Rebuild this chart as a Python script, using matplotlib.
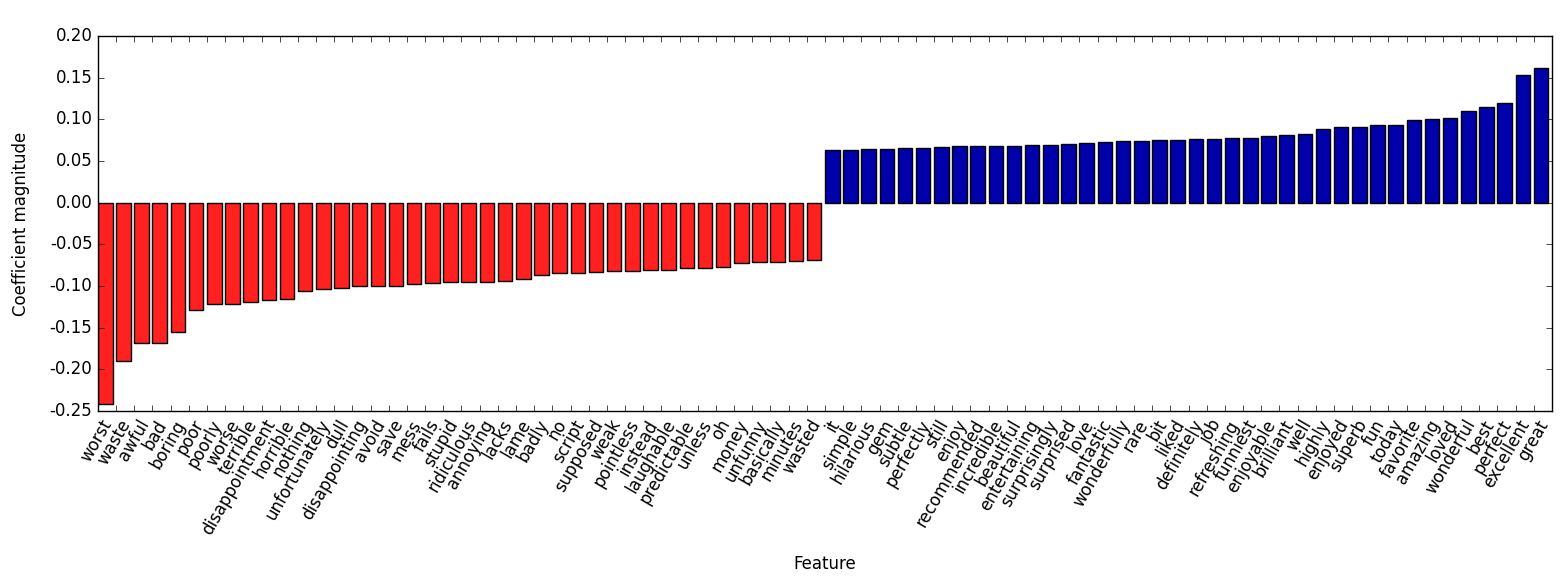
import matplotlib
matplotlib.use("Agg")
import matplotlib.pyplot as plt
import numpy as np

plt.style.use("classic")

# negative features (smallest coefficients)
neg_names = ["worst", "waste", "awful", "bad", "boring", "poor", "poorly", "worse",
             "terrible", "disappointment", "horrible", "nothing", "unfortunately",
             "dull", "disappointing", "avoid", "save", "mess", "fails", "stupid",
             "ridiculous", "annoying", "lacks", "lame", "badly", "no", "script",
             "supposed", "weak", "pointless", "instead", "laughable", "predictable",
             "unless", "oh", "money", "unfunny", "basically", "minutes", "wasted"]
neg_coef = [-0.2416, -0.1896, -0.1688, -0.1680, -0.1548, -0.1292, -0.1212, -0.1212,
            -0.1188, -0.1168, -0.1156, -0.1056, -0.1032, -0.1028, -0.1004, -0.0996,
            -0.0996, -0.0976, -0.0960, -0.0956, -0.0956, -0.0956, -0.0936, -0.0916,
            -0.0868, -0.0844, -0.0844, -0.0836, -0.0824, -0.0824, -0.0812, -0.0804,
            -0.0788, -0.0780, -0.0776, -0.0724, -0.0716, -0.0708, -0.0704, -0.0692]

# positive features (largest coefficients)
pos_names = ["it", "simple", "hilarious", "gem", "subtle", "perfectly", "still", "enjoy",
             "recommended", "incredible", "beautiful", "entertaining", "surprisingly",
             "surprised", "love", "fantastic", "wonderfully", "rare", "bit", "liked",
             "definitely", "job", "refreshing", "funniest", "enjoyable", "brilliant",
             "well", "highly", "enjoyed", "superb", "fun", "today", "favorite",
             "amazing", "loved", "wonderful", "best", "perfect", "excellent", "great"]
pos_coef = [0.0632, 0.0636, 0.0648, 0.0648, 0.0656, 0.0660, 0.0668, 0.0676,
            0.0676, 0.0676, 0.0684, 0.0692, 0.0692, 0.0704, 0.0720, 0.0728,
            0.0736, 0.0740, 0.0746, 0.0756, 0.0768, 0.0768, 0.0772, 0.0776,
            0.0796, 0.0816, 0.0820, 0.0888, 0.0908, 0.0912, 0.0932, 0.0932,
            0.0988, 0.1000, 0.1016, 0.1104, 0.1152, 0.1196, 0.1536, 0.1616]

yticks = [-0.25, -0.20, -0.15, -0.10, -0.05, 0.0, 0.05, 0.10, 0.15, 0.20]

names = neg_names + pos_names
coef = np.array(neg_coef + pos_coef)
colors = ["#ff2020" if c < 0 else "#0000aa" for c in coef]

fig = plt.figure(figsize=(15.65, 5.84), dpi=100)
ax = fig.add_axes([0.0626, 0.2962, 0.9291, 0.6422])
ax.bar(np.arange(len(coef)), coef, width=0.8, align="edge", color=colors,
       edgecolor="black", linewidth=1.0)
ax.set_xticks(np.arange(1, 1 + len(coef)))
ax.set_xticklabels(names, rotation=60, ha="right")
ax.set_xlim(0, len(coef))
ax.set_ylim(-0.25, 0.20)
ax.set_yticks(yticks)
ax.set_yticklabels(["%.2f" % v for v in yticks])
ax.set_xlabel("Feature", labelpad=12)
ax.set_ylabel("Coefficient magnitude", labelpad=14)

fig.savefig("out.png", dpi=100, facecolor="white")
